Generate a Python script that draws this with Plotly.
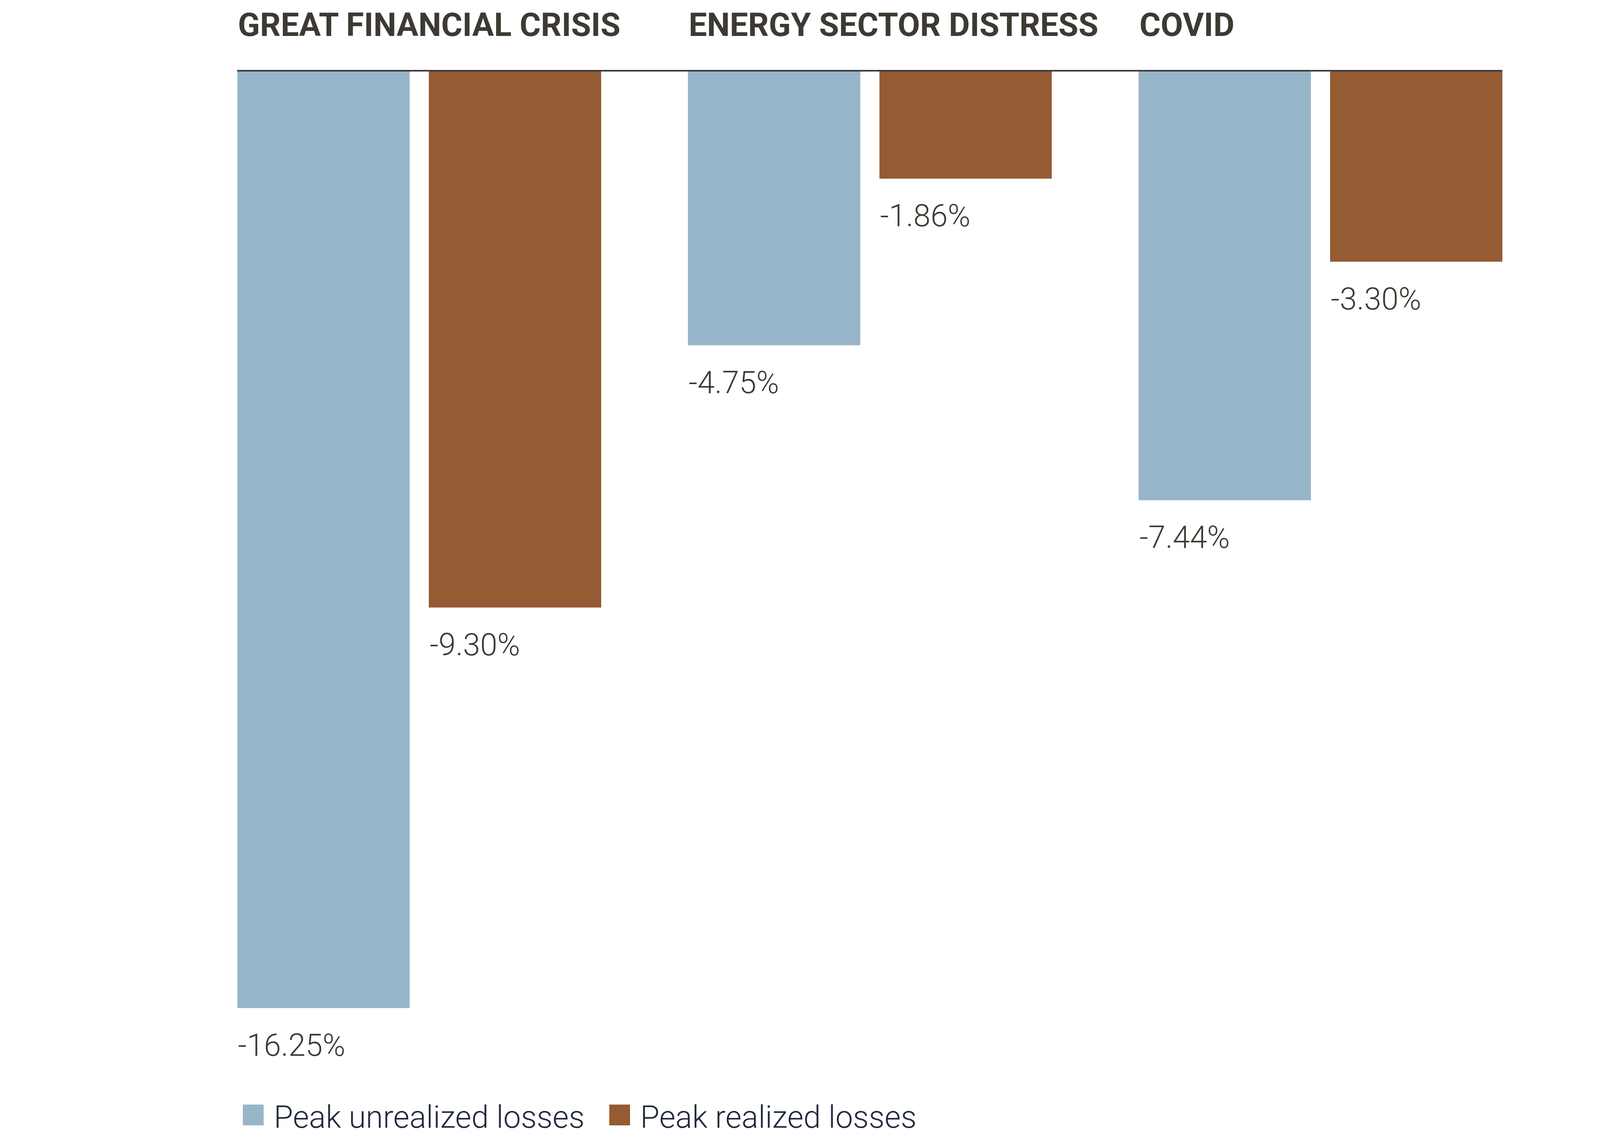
import plotly.graph_objects as go

# values
events = ["GREAT FINANCIAL CRISIS", "ENERGY SECTOR DISTRESS", "COVID"]
unrealized = [-16.25, -4.75, -7.44]
realized = [-9.30, -1.86, -3.30]
series_names = ["Peak unrealized losses", "Peak realized losses"]

BLUE = "#97b5c9"
BROWN = "#955b33"
INK = "#3d3a33"
NAVY = "#222a3e"
FONT = "Roboto"

BARGAP = 0.15
GROUPGAP = 0.1

# bar edges on the numeric category axis
slot = (1 - BARGAP) / 2
pad = slot * GROUPGAP / 2
first_left = -(1 - BARGAP) / 2 + pad
second_left = pad

fig = go.Figure()
for vals, name, colour in ((unrealized, series_names[0], BLUE),
                           (realized, series_names[1], BROWN)):
    fig.add_trace(go.Bar(x=list(range(len(events))), y=vals, name=name,
                         marker=dict(color=colour, line=dict(width=0)),
                         showlegend=False, hoverinfo="y"))

annotations = []
for i, ev in enumerate(events):
    # group headings, flush with the first bar of each group
    annotations.append(dict(x=i + first_left, y=1 - 56 / 2920, xref="x", yref="paper",
                            xanchor="left", yanchor="middle", text=ev, showarrow=False,
                            font=dict(family=FONT, size=83, color=INK, weight=700)))
    # value labels under each bar
    for left, val in ((first_left, unrealized[i]), (second_left, realized[i])):
        annotations.append(dict(x=i + left, y=val, xref="x", yref="y",
                                xanchor="left", yanchor="middle", yshift=-95,
                                text=f"{val:.2f}%", showarrow=False,
                                font=dict(family=FONT, size=79, color=INK, weight=300)))

# legend row drawn as text keys
key = "<span style='color:{c};font-family:DejaVu Sans;font-size:110px'>\u25a0</span>\u00a0"
for xpos, name, colour in ((866 / 5840, series_names[0], BLUE),
                           (2208 / 5840, series_names[1], BROWN)):
    annotations.append(dict(x=xpos, y=1 - 2856 / 2920, xref="paper", yref="paper",
                            xanchor="left", yanchor="middle",
                            text=key.format(c=colour) + name, showarrow=False,
                            font=dict(family=FONT, size=80, color=NAVY, weight=300)))

fig.update_layout(
    barmode="group", bargap=BARGAP, bargroupgap=GROUPGAP,
    plot_bgcolor="white", paper_bgcolor="white",
    margin=dict(l=0, r=0, t=0, b=0),
    annotations=annotations,
    showlegend=False,
)
fig.update_xaxes(type="linear", domain=[858 / 5840, 5494 / 5840],
                 range=[first_left, len(events) - 1 - first_left],
                 side="top", showline=True, linecolor="#383838", linewidth=4,
                 showticklabels=False, ticks="", showgrid=False, zeroline=False)
fig.update_yaxes(domain=[297 / 2920, 1 - 176 / 2920], range=[-16.5, 0],
                 showticklabels=False, showgrid=False, zeroline=False, ticks="")

fig.write_html("out.html")
